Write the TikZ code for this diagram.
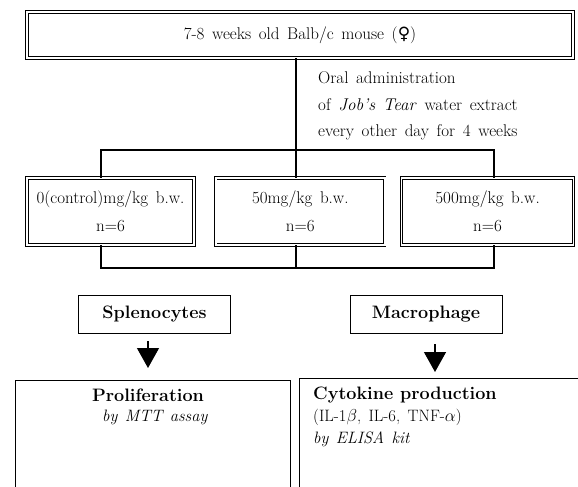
\documentclass[tikz,border=0pt]{standalone}
\usepackage{fontspec}
\usepackage{tikz}
\usetikzlibrary{arrows.meta, positioning}
\newfontfamily\symfont{DejaVu Sans}
\newcommand{\widespace}{\spaceskip=0.45em plus 0.1em\relax}

\begin{document}
\begin{tikzpicture}[
    x=1pt, y=-1pt,
    font=\fontsize{17}{26}\selectfont\widespace,
    dblbox/.style={rectangle, draw, double, double distance=1.6pt, line width=0.8pt, align=center, inner sep=0pt},
    cellbox/.style={rectangle, draw, line width=1pt, minimum width=152pt, minimum height=38pt, font=\fontsize{18}{20}\selectfont\bfseries},
    resbox/.style={rectangle, draw, line width=1.3pt, anchor=north west},
    lbl/.style={inner sep=0pt, font=\fontsize{16.5}{20}\selectfont\widespace},
    link/.style={line width=1.3pt},
    tri/.style={-{Triangle[width=22pt,length=20pt]}, line width=1.3pt}
]
    \clip (0,0) rectangle (578,487);
    \node[dblbox, minimum width=546pt, minimum height=46pt] (mouse) at (300,35) {7-8 weeks old Balb/c mouse ({\symfont ♀})};
    \node[lbl, anchor=west, align=left, font=\fontsize{17}{26.5}\selectfont\widespace] (oral) at (318,106) {Oral administration\\of \textit{Job's Tear} water extract\\every other day for 4 weeks};

    \node[dblbox, minimum width=167pt, minimum height=67pt, font=\fontsize{17}{28}\selectfont\widespace] (d0) at (110.5,211.5) {0(control)mg/kg b.w.\\n=6};
    \node[dblbox, minimum width=169pt, minimum height=67pt, font=\fontsize{17}{28}\selectfont\widespace, right=21pt of d0] (d50) {50mg/kg b.w.\\n=6};
    \node[dblbox, minimum width=172pt, minimum height=67pt, font=\fontsize{17}{28}\selectfont\widespace, right=16pt of d50] (d500) {500mg/kg b.w.\\n=6};

    \node[cellbox] (spleno) at (154.5,314) {Splenocytes};
    \node[cellbox] (macro) at (426,314) {Macrophage};

    \node[resbox, minimum width=275pt, minimum height=160pt] (prolif) at (15,380) {};
    \node[resbox, minimum width=330pt, minimum height=160pt] (cyto) at (299,378) {};

    \node[lbl, font=\fontsize{18}{20}\selectfont\bfseries] (prolift) at (148,395) {Proliferation};
    \node[lbl, anchor=west, font=\fontsize{16.5}{20}\selectfont\itshape\widespace] (mtt) at (102,417) {by MTT assay};
    \node[lbl, anchor=west, font=\fontsize{18}{20}\selectfont\bfseries] (cytot) at (313,395) {Cytokine production};
    \node[lbl, anchor=west] (il) at (313,417) {(IL-1$\beta$, IL-6, TNF-$\alpha$)};
    \node[lbl, anchor=west, font=\fontsize{16.5}{20}\selectfont\itshape\widespace] (elisa) at (313,439) {by ELISA kit};

    % upper bracket
    \coordinate (tsplit) at (296,150);
    \coordinate (tl) at (101,150);
    \coordinate (tr) at (494,150);
    \draw[link] (mouse.south -| tsplit) -- (tsplit) -- (d50.north -| tsplit);
    \draw[link] (d0.north -| tl) -- (tl) -- (tr) -- (d500.north -| tr);

    % lower bracket
    \coordinate (bsplit) at (296,268);
    \coordinate (bl) at (101,268);
    \coordinate (br) at (494,268);
    \draw[link] (d50.south -| bsplit) -- (bsplit);
    \draw[link] (d0.south -| bl) -- (bl) -- (br) -- (d500.south -| br);

    % arrows
    \coordinate (sa) at (148,341);
    \coordinate (sb) at (148,368);
    \coordinate (ma) at (435,344);
    \coordinate (mb) at (435,372);
    \draw[tri] (sa) -- (sb);
    \draw[tri] (ma) -- (mb);
\end{tikzpicture}
\end{document}
